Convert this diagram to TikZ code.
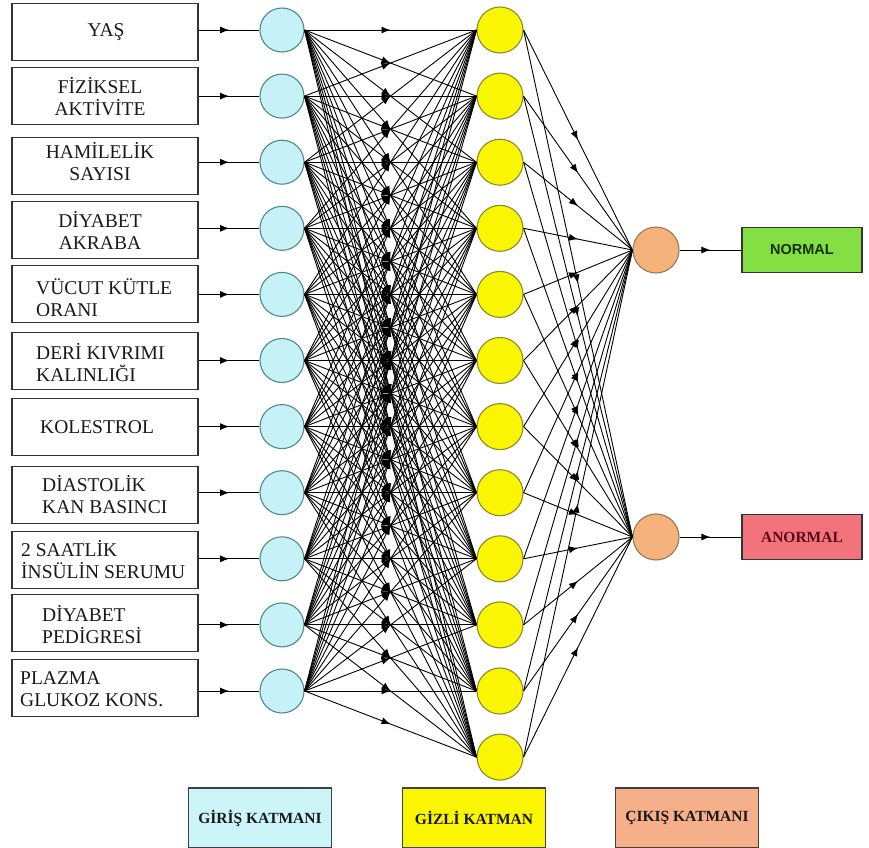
\documentclass[tikz,border=0pt]{standalone}
\usepackage{fontspec}
\setmainfont{Liberation Serif}
\newfontfamily\labelsans{Liberation Sans}
\usetikzlibrary{arrows.meta,decorations.markings}

\definecolor{inFill}{HTML}{C6F1F6}
\definecolor{inDraw}{HTML}{4F8A8B}
\definecolor{hidFill}{HTML}{FAF500}
\definecolor{hidDraw}{HTML}{8B8B2B}
\definecolor{outFill}{HTML}{F5B27A}
\definecolor{outDraw}{HTML}{8E7B5A}
\definecolor{okFill}{HTML}{84E042}
\definecolor{badFill}{HTML}{F2737B}
\definecolor{badText}{HTML}{5A0A18}
\definecolor{okText}{HTML}{14300C}
\definecolor{legIn}{HTML}{CCF5FA}
\definecolor{legOut}{HTML}{F5B08A}

\begin{document}
\begin{tikzpicture}[x=1pt,y=-1pt,
  feature/.style={draw=black!80, line width=1.5pt, minimum width=186pt,
    minimum height=57pt, inner sep=0pt},
  ftext/.style={font=\fontsize{19.5}{22}\selectfont, text=black!90, inner sep=0pt},
  innode/.style={circle, draw=inDraw, fill=inFill, line width=1.1pt,
    minimum size=44pt, inner sep=0pt},
  hidnode/.style={circle, draw=hidDraw, fill=hidFill, line width=1.1pt,
    minimum size=46pt, inner sep=0pt},
  outnode/.style={circle, draw=outDraw, fill=outFill, line width=1.1pt,
    minimum size=46pt, inner sep=0pt},
  resultbox/.style={draw=black!80, line width=1.3pt, minimum width=120pt,
    minimum height=45pt, inner sep=0pt},
  legendbox/.style={draw=black!75, line width=1.3pt, minimum width=143pt,
    minimum height=60pt, inner sep=0pt,
    font=\bfseries\fontsize{15.5}{18}\selectfont, text=black!90},
  midarrow/.style={postaction={decorate}, decoration={markings,
    mark=at position 0.5 with {\arrow{Latex[length=9pt,width=7pt]}}}},
  link/.style={line width=0.9pt, draw=black, midarrow}
]
\useasboundingbox (0,0) rectangle (869,847);
\fill[white] (0,0) rectangle (869,847);

% input features
\node[feature] (b1)  at (105,32)  {};
\node[feature] (b2)  at (105,96)  {};
\node[feature] (b3)  at (105,166) {};
\node[feature] (b4)  at (105,230) {};
\node[feature] (b5)  at (105,294) {};
\node[feature] (b6)  at (105,361) {};
\node[feature] (b7)  at (105,427) {};
\node[feature] (b8)  at (105,495) {};
\node[feature] (b9)  at (105,560) {};
\node[feature] (b10) at (105,623) {};
\node[feature] (b11) at (105,688) {};

\node[ftext, align=center] (t1) at (106,32) {YAŞ};
\node[ftext, align=center] (t2) at (100,97) {FİZİKSEL\\AKTİVİTE};
\node[ftext, align=center] (t3) at (100,162) {HAMİLELİK\\SAYISI};
\node[ftext, align=center] (t4) at (100,230) {DİYABET\\AKRABA};
\node[ftext, align=left, anchor=west] (t5) at (36,298) {VÜCUT KÜTLE\\ORANI};
\node[ftext, align=left, anchor=west] (t6) at (36,363) {DERİ KIVRIMI\\KALINLIĞI};
\node[ftext, align=left, anchor=west] (t7) at (40,427) {KOLESTROL};
\node[ftext, align=left, anchor=west] (t8) at (42,495) {DİASTOLİK\\KAN BASINCI};
\node[ftext, align=left, anchor=west] (t9) at (21,560) {2 SAATLİK\\İNSÜLİN SERUMU};
\node[ftext, align=left, anchor=west] (t10) at (42,625) {DİYABET\\PEDİGRESİ};
\node[ftext, align=left, anchor=west] (t11) at (20,689) {PLAZMA\\GLUKOZ KONS.};

% neuron layers
\foreach \i in {1,...,11}
  \node[innode] (in\i) at (282,{30+66.1*(\i-1)}) {};
\foreach \j in {1,...,12}
  \node[hidnode] (h\j) at (500,{30+66.1*(\j-1)}) {};
\node[outnode] (o1) at (656,250) {};
\node[outnode] (o2) at (656,537) {};

% result boxes
\node[resultbox, fill=okFill, text=okText,
  font=\labelsans\bfseries\fontsize{14.5}{16}\selectfont] (r1) at (802,250) {NORMAL};
\node[resultbox, fill=badFill, text=badText,
  font=\bfseries\fontsize{15.5}{18}\selectfont] (r2) at (802,537) {ANORMAL};

% feature -> input neuron
\foreach \i in {1,...,11}
  \draw[link] (b\i.east |- in\i.west) -- (in\i.west);

% input -> hidden, fully connected
\foreach \i in {1,...,11}
  \foreach \j in {1,...,12}
    \draw[link] (in\i.east) -- (h\j.west);

% hidden -> output
\foreach \j in {1,...,12}
  \foreach \k in {1,2}
    \draw[link] (h\j.east) -- (o\k.west);

% output -> result
\draw[link] (o1.east) -- (r1.west);
\draw[link] (o2.east) -- (r2.west);

% legend
\node[legendbox, fill=legIn]   (l1) at (260,818) {GİRİŞ KATMANI};
\node[legendbox, fill=hidFill] (l2) at (474,818) {GİZLİ KATMAN};
\node[legendbox, fill=legOut]  (l3) at (687,818) {ÇIKIŞ KATMANI};
\end{tikzpicture}
\end{document}
